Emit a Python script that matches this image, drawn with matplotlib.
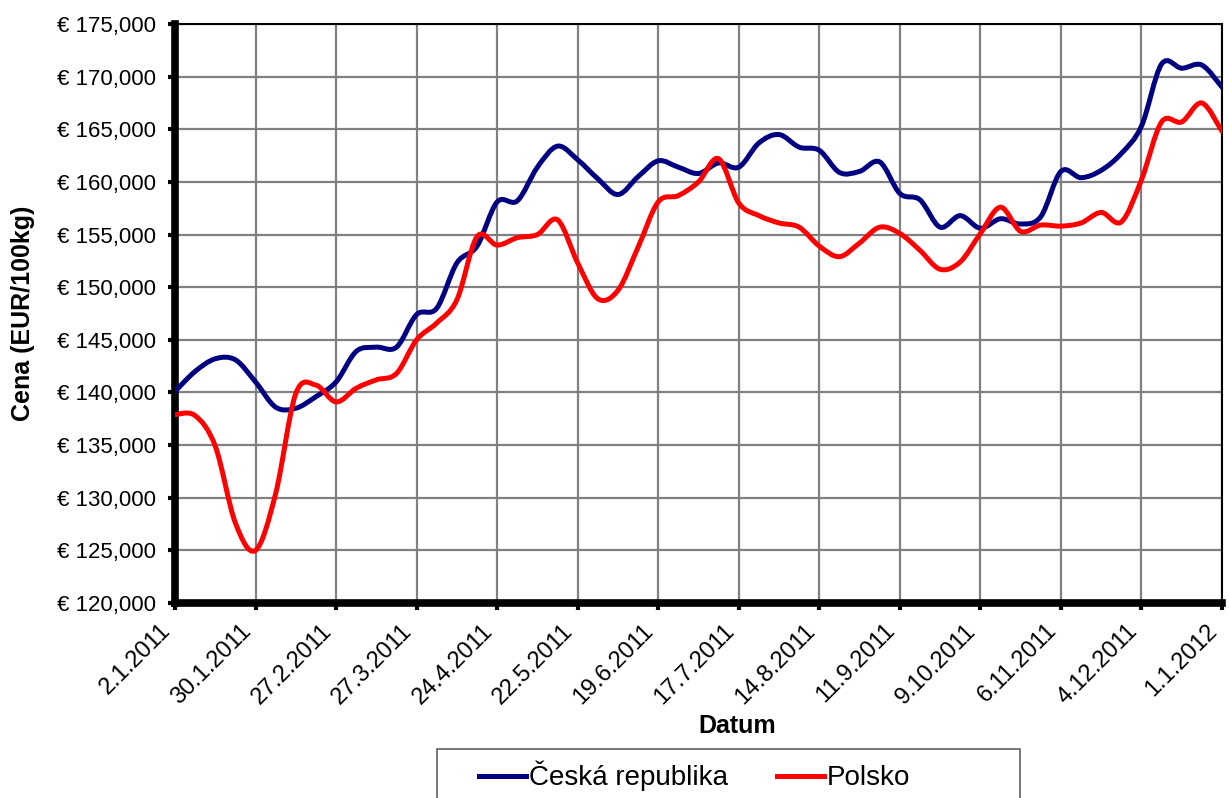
import matplotlib
matplotlib.use('Agg')
import matplotlib.pyplot as plt
import matplotlib.dates as mdates
from matplotlib.path import Path
from matplotlib.patches import PathPatch, Rectangle
from matplotlib.lines import Line2D
from matplotlib.ticker import FuncFormatter, MultipleLocator
import numpy as np
import pandas as pd

plt.rcParams['font.family'] = ['Liberation Sans', 'DejaVu Sans']

# weekly dates 2.1.2011 .. 1.1.2012
dates = pd.date_range('2011-01-02', periods=53, freq='7D')

cesko = [140.1, 142.0, 143.2, 143.1, 141.0, 138.6, 138.5, 139.6, 141.0, 143.9,
         144.3, 144.3, 147.4, 148.0, 152.3, 153.9, 158.1, 158.2, 161.4, 163.4,
         162.1, 160.3, 158.8, 160.5, 162.0, 161.4, 160.8, 161.8, 161.4, 163.7,
         164.5, 163.3, 163.0, 160.9, 161.0, 161.9, 158.9, 158.3, 155.7, 156.8,
         155.6, 156.5, 156.0, 156.7, 161.0, 160.4, 161.1, 162.7, 165.3, 171.2,
         170.8, 171.1, 169.0]
polsko = [137.9, 137.8, 134.9, 127.6, 125.0, 130.4, 139.9, 140.7, 139.1, 140.4,
          141.2, 141.8, 145.0, 146.6, 148.8, 154.8, 154.0, 154.7, 155.0, 156.4,
          152.3, 148.9, 149.7, 153.8, 158.1, 158.7, 160.0, 162.2, 158.0, 156.8,
          156.1, 155.7, 153.9, 152.9, 154.2, 155.7, 155.1, 153.5, 151.7, 152.4,
          155.1, 157.6, 155.3, 155.9, 155.8, 156.1, 157.1, 156.2, 160.2, 165.7,
          165.7, 167.5, 164.8]

tick_labels = ['2.1.2011', '30.1.2011', '27.2.2011', '27.3.2011', '24.4.2011',
               '22.5.2011', '19.6.2011', '17.7.2011', '14.8.2011', '11.9.2011',
               '9.10.2011', '6.11.2011', '4.12.2011', '1.1.2012']
series_names = ['Česká republika', 'Polsko']
colors = ['#000080', '#FF0000']

W, H = 1229, 798
fig = plt.figure(figsize=(W / 100, H / 100), dpi=100)
ax = fig.add_axes([175 / W, 1 - 603 / H, (1222 - 175) / W, (603 - 24) / H])

xnum = mdates.date2num(dates)


def smooth_path(x, y):
    pts = np.column_stack([x, y])
    n = len(pts)
    verts = [pts[0]]
    codes = [Path.MOVETO]
    for i in range(n - 1):
        p0 = pts[max(i - 1, 0)]
        p1 = pts[i]
        p2 = pts[i + 1]
        p3 = pts[min(i + 2, n - 1)]
        c1 = p1 + (p2 - p0) / 6.0
        c2 = p2 - (p3 - p1) / 6.0
        verts += [c1, c2, p2]
        codes += [Path.CURVE4] * 3
    return Path(verts, codes)


for vals, col in zip([cesko, polsko], colors):
    patch = PathPatch(smooth_path(xnum, np.array(vals, dtype=float)), fill=False,
                      edgecolor=col, lw=3.6, capstyle='round', joinstyle='round',
                      zorder=3)
    ax.add_patch(patch)

ax.set_xlim(xnum[0], xnum[-1])
ax.set_ylim(120, 175)
ax.yaxis.set_major_locator(MultipleLocator(5))
ax.yaxis.set_major_formatter(FuncFormatter(lambda v, p: '€ ' + f'{v:.3f}'.replace('.', ',')))
ax.set_xticks(xnum[::4])
ax.set_xticklabels(tick_labels, rotation=45, ha='right', va='top', fontsize=17)

ax.grid(True, color='#808080', lw=1.6, zorder=1)
ax.set_axisbelow(True)

for s in ['left', 'bottom']:
    ax.spines[s].set_linewidth(5.5)
for s in ['top', 'right']:
    ax.spines[s].set_linewidth(1.5)

ax.tick_params(axis='both', direction='out', length=5, width=3)
ax.tick_params(axis='y', pad=9, labelsize=16)
ax.tick_params(axis='x', pad=7)

ax.set_ylabel('Cena (EUR/100kg)', fontsize=18, fontweight='bold')
ax.yaxis.set_label_coords(-(175 - 35) / 1047, 0.5)
ax.set_xlabel('Datum', fontsize=18, fontweight='bold')
ax.xaxis.set_label_coords((737 - 175) / 1047, -(726 - 603) / 579)
ax.xaxis.label.set_va('center')

# legend box
fig.patches.append(Rectangle((437 / W, 1 - 815 / H), (1020 - 437) / W, (815 - 749) / H,
                             transform=fig.transFigure, facecolor='white',
                             edgecolor='#606060', lw=1.2, zorder=0))
handles = [Line2D([], [], color=c, lw=3.6) for c in colors]
fig.legend(handles, series_names, loc='center left',
           bbox_to_anchor=(479 / W, 1 - 776 / H), ncol=2, frameon=False,
           fontsize=20, handlelength=1.7, handletextpad=0.1,
           columnspacing=1.75, borderpad=0, borderaxespad=0)

fig.savefig('out.png', dpi=100)
